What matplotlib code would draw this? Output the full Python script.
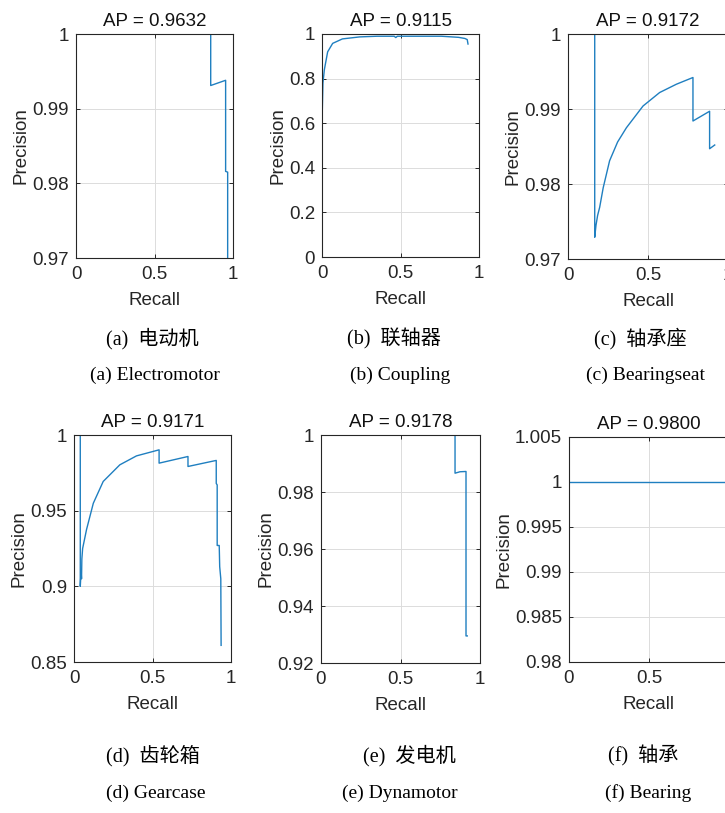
import matplotlib
matplotlib.use("Agg")
import matplotlib.pyplot as plt
from matplotlib.ticker import FuncFormatter

plt.rcParams['font.family'] = ['Liberation Sans', 'DejaVu Sans']

# precision / recall
recall_a = [0, 0.858, 0.858, 0.953, 0.953, 0.966, 0.966]
prec_a = [1, 1, 0.9931, 0.9938, 0.9816, 0.9815, 0.96]

recall_b = [0, 0.002, 0.006, 0.015, 0.036, 0.068, 0.13, 0.24, 0.35, 0.46,
            0.47, 0.48, 0.6, 0.76, 0.87, 0.91, 0.925, 0.93]
prec_b = [0, 0.66, 0.78, 0.84, 0.92, 0.958, 0.978, 0.987, 0.99, 0.99,
          0.984, 0.99, 0.99, 0.99, 0.985, 0.98, 0.975, 0.955]

recall_c = [0, 0.167, 0.167, 0.175, 0.185, 0.198, 0.22, 0.26, 0.31, 0.365,
            0.469, 0.573, 0.677, 0.781, 0.781, 0.885, 0.885, 0.917]
prec_c = [1, 1, 0.9729, 0.9745, 0.9758, 0.9769, 0.9795, 0.9831, 0.9856, 0.9875,
          0.9904, 0.9922, 0.9933, 0.9942, 0.9884, 0.9897, 0.9847, 0.9852]

recall_d = [0, 0.04, 0.04, 0.045, 0.048, 0.05, 0.055, 0.08, 0.123, 0.186,
            0.292, 0.398, 0.542, 0.542, 0.726, 0.726, 0.906, 0.906, 0.912,
            0.912, 0.925, 0.928, 0.935, 0.937]
prec_d = [1, 1, 0.9, 0.91, 0.905, 0.918, 0.925, 0.9376, 0.9549, 0.9693,
          0.9803, 0.9862, 0.9902, 0.9814, 0.9858, 0.9792, 0.9832, 0.968, 0.967,
          0.927, 0.927, 0.913, 0.905, 0.861]

recall_e = [0, 0.843, 0.843, 0.874, 0.912, 0.912, 0.92]
prec_e = [1, 1, 0.9866, 0.9871, 0.9872, 0.9295, 0.9295]

recall_f = [0, 1]
prec_f = [1, 1]

ap_values = ["0.9632", "0.9115", "0.9172", "0.9171", "0.9178", "0.9800"]
ylims = [(0.97, 1), (0, 1), (0.97, 1), (0.85, 1), (0.92, 1), (0.98, 1.005)]
yticks = [[0.97, 0.98, 0.99, 1],
          [0, 0.2, 0.4, 0.6, 0.8, 1],
          [0.97, 0.98, 0.99, 1],
          [0.85, 0.9, 0.95, 1],
          [0.92, 0.94, 0.96, 0.98, 1],
          [0.98, 0.985, 0.99, 0.995, 1, 1.005]]
cap_cn = ["(a)  电动机", "(b)  联轴器", "(c)  轴承座",
          "(d)  齿轮箱", "(e)  发电机", "(f)  轴承"]
cap_en = ["(a) Electromotor", "(b) Coupling", "(c) Bearingseat",
          "(d) Gearcase", "(e) Dynamotor", "(f) Bearing"]

curves = [(recall_a, prec_a), (recall_b, prec_b), (recall_c, prec_c),
          (recall_d, prec_d), (recall_e, prec_e), (recall_f, prec_f)]

W, H = 725, 813
fig = plt.figure(figsize=(W / 100, H / 100), dpi=100)

# axes boxes in pixels: left, top, right, bottom
boxes = [(76, 34, 233, 258), (322, 34, 479, 257), (568, 34, 728, 259),
         (74, 435, 231, 662), (321, 435, 480, 663), (569, 437, 729, 662)]
cn_pos = [(152, 339), (394, 339), (640, 339), (153, 756), (409, 756), (643, 756)]
en_pos = [(155, 375), (400, 375), (645, 375), (156, 793), (400, 793), (648, 793)]

fmt = FuncFormatter(lambda v, p: "%g" % round(v, 4))
edge = '#262626'

for i in range(6):
    l, t, r, b = boxes[i]
    ax = fig.add_axes([l / W, 1 - b / H, (r - l) / W, (b - t) / H])
    rec, pre = curves[i]
    ax.plot(rec, pre, color='#1f7fc0', lw=1.0)
    ax.set_xlim(0, 1)
    ax.set_ylim(*ylims[i])
    ax.set_xticks([0, 0.5, 1])
    ax.set_yticks(yticks[i])
    ax.xaxis.set_major_formatter(fmt)
    ax.yaxis.set_major_formatter(fmt)
    ax.grid(True, color='#dcdcdc', lw=0.7)
    ax.set_axisbelow(True)
    ax.tick_params(direction='in', top=True, right=True, length=3,
                   width=0.7, colors=edge, labelsize=13.5, pad=6)
    ax.tick_params(axis='y', pad=5)
    for s in ax.spines.values():
        s.set_color(edge)
        s.set_linewidth(0.8)
    ax.set_title("AP = " + ap_values[i], fontsize=13.5, color='#111111', pad=6)
    ax.set_xlabel("Recall", fontsize=13.5, color=edge, labelpad=6)
    ax.set_ylabel("Precision", fontsize=13.5, color=edge, labelpad=2)

    x, y = cn_pos[i]
    fig.text(x / W, 1 - y / H, cap_cn[i], ha='center', va='center', fontsize=14.5,
             family=['Liberation Serif', 'Noto Sans CJK SC'])
    x, y = en_pos[i]
    fig.text(x / W, 1 - y / H, cap_en[i], ha='center', va='center', fontsize=14,
             family=['Liberation Serif', 'DejaVu Serif'])

fig.savefig("out.png", dpi=100)
